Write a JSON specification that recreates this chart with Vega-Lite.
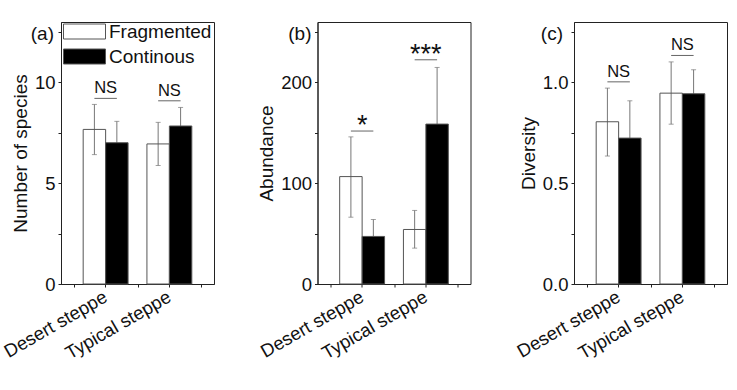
{
  "$schema": "https://vega.github.io/schema/vega-lite/v6.json",
  "background": "white",
  "padding": {"left": 0, "top": 21, "right": 0, "bottom": 0},
  "config": {
    "font": "Liberation Sans",
    "view": {"stroke": "#222", "strokeWidth": 1},
    "axis": {
      "labelFont": "Liberation Sans", "labelFontSize": 18.5, "labelColor": "#111",
      "titleFont": "Liberation Sans", "titleFontSize": 19, "titleFontWeight": "normal", "titleColor": "#111",
      "domainColor": "#222", "tickColor": "#222", "tickSize": 3, "grid": false,
      "labelPadding": 3, "titlePadding": 4
    },
    "title": {"font": "Liberation Sans", "fontSize": 19, "fontWeight": "normal", "color": "#111"}
  },
  "datasets": {
    "bars": [
      {"panel": "a", "steppe": "Desert steppe", "group": "Fragmented", "mean": 7.67, "low": 6.42, "high": 8.91, "sig": 9.21, "sigLabel": "NS"},
      {"panel": "a", "steppe": "Desert steppe", "group": "Continous", "mean": 7.01, "low": 5.95, "high": 8.07, "sig": 9.21, "sigLabel": "NS"},
      {"panel": "a", "steppe": "Typical steppe", "group": "Fragmented", "mean": 6.95, "low": 5.88, "high": 8.02, "sig": 9.09, "sigLabel": "NS"},
      {"panel": "a", "steppe": "Typical steppe", "group": "Continous", "mean": 7.84, "low": 6.92, "high": 8.76, "sig": 9.09, "sigLabel": "NS"},
      {"panel": "b", "steppe": "Desert steppe", "group": "Fragmented", "mean": 106.6, "low": 66.3, "high": 146.0, "sig": 151.8, "sigLabel": "*"},
      {"panel": "b", "steppe": "Desert steppe", "group": "Continous", "mean": 47.2, "low": 30.4, "high": 64.0, "sig": 151.8, "sigLabel": "*"},
      {"panel": "b", "steppe": "Typical steppe", "group": "Fragmented", "mean": 54.1, "low": 35.6, "high": 73.0, "sig": 222.5, "sigLabel": "***"},
      {"panel": "b", "steppe": "Typical steppe", "group": "Continous", "mean": 158.7, "low": 102.5, "high": 214.9, "sig": 222.5, "sigLabel": "***"},
      {"panel": "c", "steppe": "Desert steppe", "group": "Fragmented", "mean": 0.805, "low": 0.635, "high": 0.972, "sig": 1.003, "sigLabel": "NS"},
      {"panel": "c", "steppe": "Desert steppe", "group": "Continous", "mean": 0.724, "low": 0.539, "high": 0.909, "sig": 1.003, "sigLabel": "NS"},
      {"panel": "c", "steppe": "Typical steppe", "group": "Fragmented", "mean": 0.947, "low": 0.793, "high": 1.102, "sig": 1.134, "sigLabel": "NS"},
      {"panel": "c", "steppe": "Typical steppe", "group": "Continous", "mean": 0.944, "low": 0.825, "high": 1.063, "sig": 1.134, "sigLabel": "NS"}
    ]
  },
  "bounds": "flush",
  "spacing": 103.5,
  "resolve": {"scale": {"y": "independent", "fill": "independent"}, "legend": {"fill": "independent"}},
  "hconcat": [
    {
      "width": 153, "height": 262,
      "title": {"text": "(a)", "anchor": "start", "frame": "group", "orient": "top", "offset": 0, "baseline": "middle", "align": "right", "dx": -7, "dy": 31},
      "data": {"name": "bars"},
      "transform": [{"filter": "datum.panel === 'a'"}],
      "resolve": {"axis": {"x": "independent"}},
      "layer": [
        {
          "mark": {"type": "rule", "color": "#777", "strokeWidth": 1},
          "encoding": {
            "x": {"field": "steppe", "type": "nominal", "sort": ["Desert steppe", "Typical steppe"], "scale": {"paddingInner": 0, "paddingOuter": 0.2}, "axis": {"orient": "bottom", "title": null, "labelAngle": -30, "labelAlign": "right", "labelBaseline": "middle", "labelPadding": 8}},
            "xOffset": {"field": "group", "sort": ["Fragmented", "Continous"], "scale": {"paddingInner": 0, "paddingOuter": 0.42}},
            "y": {"field": "low", "type": "quantitative", "scale": {"domain": [0, 13], "nice": false}, "axis": {"title": "Number of species", "values": [0, 2.5, 5, 7.5, 10, 12.5], "labelExpr": "datum.value % 5 === 0 ? datum.label : ''"}},
            "y2": {"field": "high"}
          }
        },
        {
          "mark": {"type": "tick", "color": "#777", "size": 5, "thickness": 1},
          "encoding": {
            "x": {"field": "steppe", "type": "nominal", "sort": ["Desert steppe", "Typical steppe"], "axis": {"orient": "bottom", "tickBand": "extent", "labels": false, "domain": false, "title": null}},
            "xOffset": {"field": "group", "sort": ["Fragmented", "Continous"]}, "y": {"field": "high", "type": "quantitative"}}
        },
        {
          "mark": {"type": "tick", "color": "#777", "size": 5, "thickness": 1},
          "encoding": {
            "x": {"field": "steppe", "type": "nominal", "sort": ["Desert steppe", "Typical steppe"], "axis": null},
            "xOffset": {"field": "group", "sort": ["Fragmented", "Continous"]}, "y": {"field": "low", "type": "quantitative"}}
        },
        {
          "mark": {"type": "bar", "stroke": "#555", "strokeWidth": 1},
          "encoding": {
            "x": {"field": "steppe", "type": "nominal", "sort": ["Desert steppe", "Typical steppe"], "axis": null},
            "xOffset": {"field": "group", "sort": ["Fragmented", "Continous"]},
            "y": {"field": "mean", "type": "quantitative"},
            "fill": {"field": "group", "type": "nominal", "sort": ["Fragmented", "Continous"], "scale": {"domain": ["Fragmented", "Continous"], "range": ["transparent", "black"]},
              "legend": {"title": null, "orient": "none", "legendX": 14, "legendY": 0, "padding": 0, "symbolType": "M-2.8,-1L2.8,-1L2.8,1L-2.8,1Z", "symbolSize": 225, "symbolStrokeColor": "#555", "symbolStrokeWidth": 1, "labelFont": "Liberation Sans", "labelFontSize": 19, "labelColor": "#111", "labelOffset": 15, "rowPadding": 5}}
          }
        },
        {
          "mark": {"type": "line", "color": "#666", "strokeWidth": 1},
          "encoding": {
            "x": {"field": "steppe", "type": "nominal", "sort": ["Desert steppe", "Typical steppe"], "axis": null},
            "xOffset": {"field": "group", "sort": ["Fragmented", "Continous"]}, "y": {"field": "sig", "type": "quantitative"}, "detail": {"field": "steppe"}}
        },
        {
          "transform": [{"filter": "datum.group === 'Fragmented'"}],
          "mark": {"type": "text", "baseline": "alphabetic", "dy": -5, "fontSize": 16.5, "color": "#111"},
          "encoding": {
            "x": {"field": "steppe", "type": "nominal", "sort": ["Desert steppe", "Typical steppe"], "axis": null},
            "y": {"field": "sig", "type": "quantitative"}, "text": {"field": "sigLabel"}}
        }
      ]
    },
    {
      "width": 153, "height": 262,
      "title": {"text": "(b)", "anchor": "start", "frame": "group", "orient": "top", "offset": 0, "baseline": "middle", "align": "right", "dx": -6, "dy": 31},
      "data": {"name": "bars"},
      "transform": [{"filter": "datum.panel === 'b'"}],
      "resolve": {"axis": {"x": "independent"}},
      "layer": [
        {
          "mark": {"type": "rule", "color": "#777", "strokeWidth": 1},
          "encoding": {
            "x": {"field": "steppe", "type": "nominal", "sort": ["Desert steppe", "Typical steppe"], "scale": {"paddingInner": 0, "paddingOuter": 0.2}, "axis": {"orient": "bottom", "title": null, "labelAngle": -30, "labelAlign": "right", "labelBaseline": "middle", "labelPadding": 8}},
            "xOffset": {"field": "group", "sort": ["Fragmented", "Continous"], "scale": {"paddingInner": 0, "paddingOuter": 0.42}},
            "y": {"field": "low", "type": "quantitative", "scale": {"domain": [0, 260], "nice": false}, "axis": {"title": "Abundance", "values": [0, 50, 100, 150, 200, 250], "labelExpr": "datum.value % 100 === 0 ? datum.label : ''"}},
            "y2": {"field": "high"}
          }
        },
        {
          "mark": {"type": "tick", "color": "#777", "size": 5, "thickness": 1},
          "encoding": {
            "x": {"field": "steppe", "type": "nominal", "sort": ["Desert steppe", "Typical steppe"], "axis": {"orient": "bottom", "tickBand": "extent", "labels": false, "domain": false, "title": null}},
            "xOffset": {"field": "group", "sort": ["Fragmented", "Continous"]}, "y": {"field": "high", "type": "quantitative"}}
        },
        {
          "mark": {"type": "tick", "color": "#777", "size": 5, "thickness": 1},
          "encoding": {
            "x": {"field": "steppe", "type": "nominal", "sort": ["Desert steppe", "Typical steppe"], "axis": null},
            "xOffset": {"field": "group", "sort": ["Fragmented", "Continous"]}, "y": {"field": "low", "type": "quantitative"}}
        },
        {
          "mark": {"type": "bar", "stroke": "#555", "strokeWidth": 1},
          "encoding": {
            "x": {"field": "steppe", "type": "nominal", "sort": ["Desert steppe", "Typical steppe"], "axis": null},
            "xOffset": {"field": "group", "sort": ["Fragmented", "Continous"]},
            "y": {"field": "mean", "type": "quantitative"},
            "fill": {"field": "group", "type": "nominal", "scale": {"domain": ["Fragmented", "Continous"], "range": ["transparent", "black"]}, "legend": null}
          }
        },
        {
          "mark": {"type": "line", "color": "#666", "strokeWidth": 1},
          "encoding": {
            "x": {"field": "steppe", "type": "nominal", "sort": ["Desert steppe", "Typical steppe"], "axis": null},
            "xOffset": {"field": "group", "sort": ["Fragmented", "Continous"]}, "y": {"field": "sig", "type": "quantitative"}, "detail": {"field": "steppe"}}
        },
        {
          "transform": [{"filter": "datum.group === 'Fragmented'"}],
          "mark": {"type": "text", "baseline": "alphabetic", "dy": 3, "fontSize": 27, "color": "#111"},
          "encoding": {
            "x": {"field": "steppe", "type": "nominal", "sort": ["Desert steppe", "Typical steppe"], "axis": null},
            "y": {"field": "sig", "type": "quantitative"}, "text": {"field": "sigLabel"}}
        }
      ]
    },
    {
      "width": 153, "height": 262,
      "title": {"text": "(c)", "anchor": "start", "frame": "group", "orient": "top", "offset": 0, "baseline": "middle", "align": "right", "dx": -11, "dy": 31},
      "data": {"name": "bars"},
      "transform": [{"filter": "datum.panel === 'c'"}],
      "resolve": {"axis": {"x": "independent"}},
      "layer": [
        {
          "mark": {"type": "rule", "color": "#777", "strokeWidth": 1},
          "encoding": {
            "x": {"field": "steppe", "type": "nominal", "sort": ["Desert steppe", "Typical steppe"], "scale": {"paddingInner": 0, "paddingOuter": 0.2}, "axis": {"orient": "bottom", "title": null, "labelAngle": -30, "labelAlign": "right", "labelBaseline": "middle", "labelPadding": 8}},
            "xOffset": {"field": "group", "sort": ["Fragmented", "Continous"], "scale": {"paddingInner": 0, "paddingOuter": 0.42}},
            "y": {"field": "low", "type": "quantitative", "scale": {"domain": [0, 1.3], "nice": false}, "axis": {"title": "Diversity", "values": [0, 0.25, 0.5, 0.75, 1, 1.25], "labelExpr": "datum.value % 0.5 === 0 ? format(datum.value, '.1f') : ''"}},
            "y2": {"field": "high"}
          }
        },
        {
          "mark": {"type": "tick", "color": "#777", "size": 5, "thickness": 1},
          "encoding": {
            "x": {"field": "steppe", "type": "nominal", "sort": ["Desert steppe", "Typical steppe"], "axis": {"orient": "bottom", "tickBand": "extent", "labels": false, "domain": false, "title": null}},
            "xOffset": {"field": "group", "sort": ["Fragmented", "Continous"]}, "y": {"field": "high", "type": "quantitative"}}
        },
        {
          "mark": {"type": "tick", "color": "#777", "size": 5, "thickness": 1},
          "encoding": {
            "x": {"field": "steppe", "type": "nominal", "sort": ["Desert steppe", "Typical steppe"], "axis": null},
            "xOffset": {"field": "group", "sort": ["Fragmented", "Continous"]}, "y": {"field": "low", "type": "quantitative"}}
        },
        {
          "mark": {"type": "bar", "stroke": "#555", "strokeWidth": 1},
          "encoding": {
            "x": {"field": "steppe", "type": "nominal", "sort": ["Desert steppe", "Typical steppe"], "axis": null},
            "xOffset": {"field": "group", "sort": ["Fragmented", "Continous"]},
            "y": {"field": "mean", "type": "quantitative"},
            "fill": {"field": "group", "type": "nominal", "scale": {"domain": ["Fragmented", "Continous"], "range": ["transparent", "black"]}, "legend": null}
          }
        },
        {
          "mark": {"type": "line", "color": "#666", "strokeWidth": 1},
          "encoding": {
            "x": {"field": "steppe", "type": "nominal", "sort": ["Desert steppe", "Typical steppe"], "axis": null},
            "xOffset": {"field": "group", "sort": ["Fragmented", "Continous"]}, "y": {"field": "sig", "type": "quantitative"}, "detail": {"field": "steppe"}}
        },
        {
          "transform": [{"filter": "datum.group === 'Fragmented'"}],
          "mark": {"type": "text", "baseline": "alphabetic", "dy": -5, "fontSize": 16.5, "color": "#111"},
          "encoding": {
            "x": {"field": "steppe", "type": "nominal", "sort": ["Desert steppe", "Typical steppe"], "axis": null},
            "y": {"field": "sig", "type": "quantitative"}, "text": {"field": "sigLabel"}}
        }
      ]
    }
  ]
}
